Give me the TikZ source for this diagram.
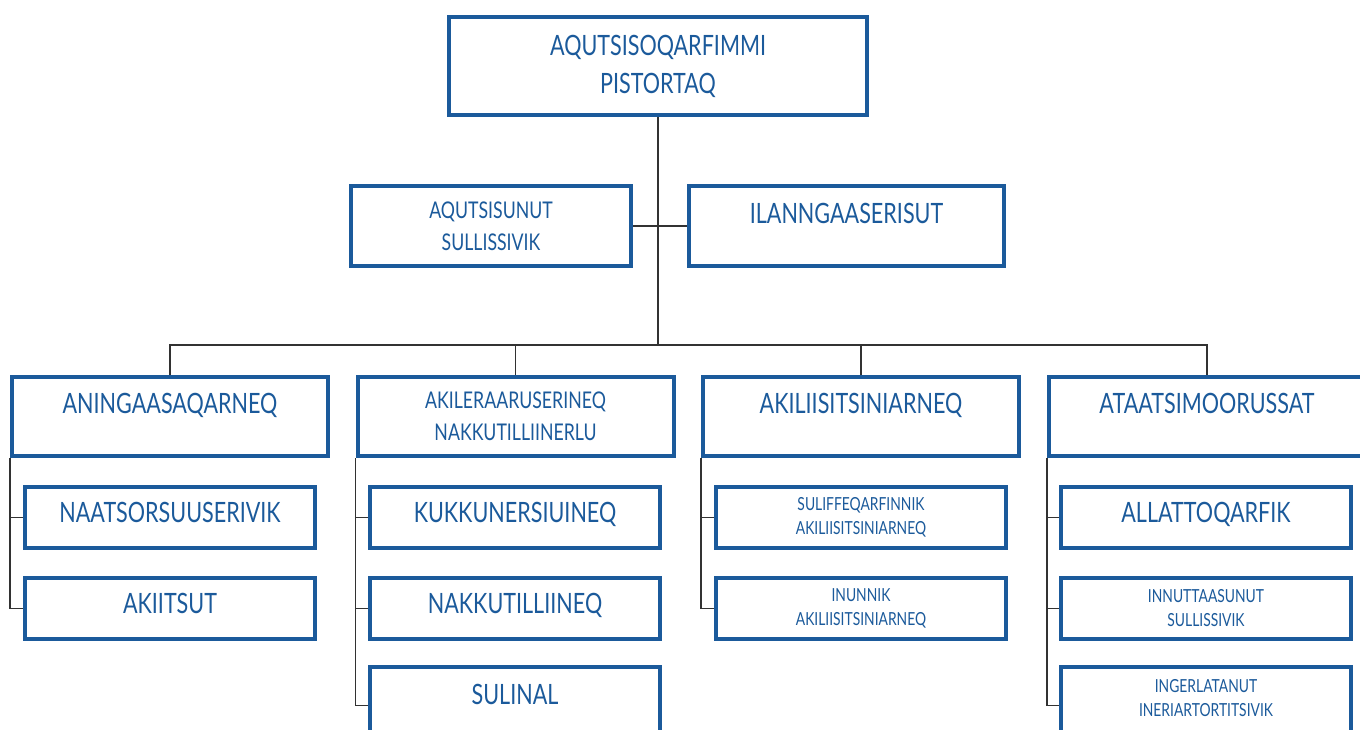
\documentclass[tikz,border=0pt]{standalone}
\usepackage{fontspec}
\setmainfont{Lato}[FakeStretch=0.77]
\usepackage{tikz}
\definecolor{orgblue}{RGB}{27,90,155}
\definecolor{orgline}{RGB}{50,50,50}
\newcommand\bigtxt{\fontsize{28}{38}\selectfont}
\newcommand\midtxt{\fontsize{23}{32}\selectfont}
\newcommand\smalltxt{\fontsize{18}{24}\selectfont}

\begin{document}
\begin{tikzpicture}[x=1pt, y=-1pt,
		orgbox/.style={draw=orgblue, line width=4pt, fill=white, text=orgblue, align=center, inner sep=0pt},
		headbox/.style={orgbox, minimum width=316pt, minimum height=79pt},
		subbox/.style={orgbox, minimum width=290pt, minimum height=61pt},
		lastbox/.style={subbox, minimum height=71pt},
		raisedone/.style={text depth=26pt},
		liftone/.style={text depth=11pt},
		link/.style={draw=orgline, line width=1.8pt}]
		%%%%% FRAME %%%%%
		
		\useasboundingbox (0,0) rectangle (1360,729);
		\fill[white] (0,0) rectangle (1360,729);
		\clip (0,0) rectangle (1360,729);
		
		%%%%% TOP %%%%%
		
		\node[orgbox, minimum width=418pt, minimum height=98pt, font=\bigtxt] (ceo) at (658, 66) {AQUTSISOQARFIMMI\\PISTORTAQ};
		\node[orgbox, minimum width=280pt, minimum height=80pt, font=\midtxt] (adv) at (491, 226) {AQUTSISUNUT\\SULLISSIVIK};
		\node[orgbox, raisedone, minimum width=315pt, minimum height=80pt, font=\bigtxt] (comm) at (846.5, 226) {ILANNGAASERISUT};
		
		%%%%% HEADS %%%%%
		
		\node[headbox, raisedone, font=\bigtxt] (fin) at (170, 416.5) {ANINGAASAQARNEQ};
		\node[headbox, font=\midtxt] (acc) at (515.5, 416.5) {AKILERAARUSERINEQ\\NAKKUTILLIINERLU};
		\node[headbox, raisedone, font=\bigtxt] (aud) at (861, 416.5) {AKILIISITSINIARNEQ};
		\node[headbox, raisedone, font=\bigtxt] (grp) at (1207, 416.5) {ATAATSIMOORUSSAT};
		
		%%%%% SUB BOXES %%%%%
		
		\node[subbox, liftone, font=\bigtxt] (fin1) at (170, 517.5) {NAATSORSUUSERIVIK};
		\node[subbox, liftone, font=\bigtxt] (fin2) at (170, 608.5) {AKIITSUT};
		
		\node[subbox, liftone, font=\bigtxt] (acc1) at (515, 517.5) {KUKKUNERSIUINEQ};
		\node[subbox, liftone, font=\bigtxt] (acc2) at (515, 608.5) {NAKKUTILLIINEQ};
		\node[lastbox, text depth=17pt, font=\bigtxt] (acc3) at (515, 702.5) {SULINAL};
		
		\node[subbox, font=\smalltxt] (aud1) at (861, 517.5) {SULIFFEQARFINNIK\\AKILIISITSINIARNEQ};
		\node[subbox, font=\smalltxt] (aud2) at (861, 608.5) {INUNNIK\\AKILIISITSINIARNEQ};
		
		\node[subbox, liftone, font=\bigtxt] (grp1) at (1206, 517.5) {ALLATTOQARFIK};
		\node[subbox, font=\smalltxt] (grp2) at (1206, 608.5) {INNUTTAASUNUT\\SULLISSIVIK};
		\node[lastbox, text depth=9pt, font=\smalltxt] (grp3) at (1206, 702.5) {INGERLATANUT\\INERIARTORTITSIVIK};
		
		%%%%% LINKS %%%%%
		
		\coordinate (bus) at (658, 345);
		\draw[link] (ceo.south) -- (bus);
		\draw[link] (adv.east) -- (comm.west);
		\draw[link] (fin.north) |- (bus) -| (grp.north);
		\draw[link] (acc.north) |- (bus) -| (aud.north);
		
		\draw[link] (fin.south west) |- (fin1.west);
		\draw[link] (fin.south west) |- (fin2.west);
		\draw[link] (acc.south west) |- (acc1.west);
		\draw[link] (acc.south west) |- (acc2.west);
		\draw[link] (acc.south west) |- ([yshift=-3pt]acc3.west);
		\draw[link] (aud.south west) |- (aud1.west);
		\draw[link] (aud.south west) |- (aud2.west);
		\draw[link] (grp.south west) |- (grp1.west);
		\draw[link] (grp.south west) |- (grp2.west);
		\draw[link] (grp.south west) |- ([yshift=-3pt]grp3.west);
		
		%%%%% END %%%%%
\end{tikzpicture}
\end{document}
